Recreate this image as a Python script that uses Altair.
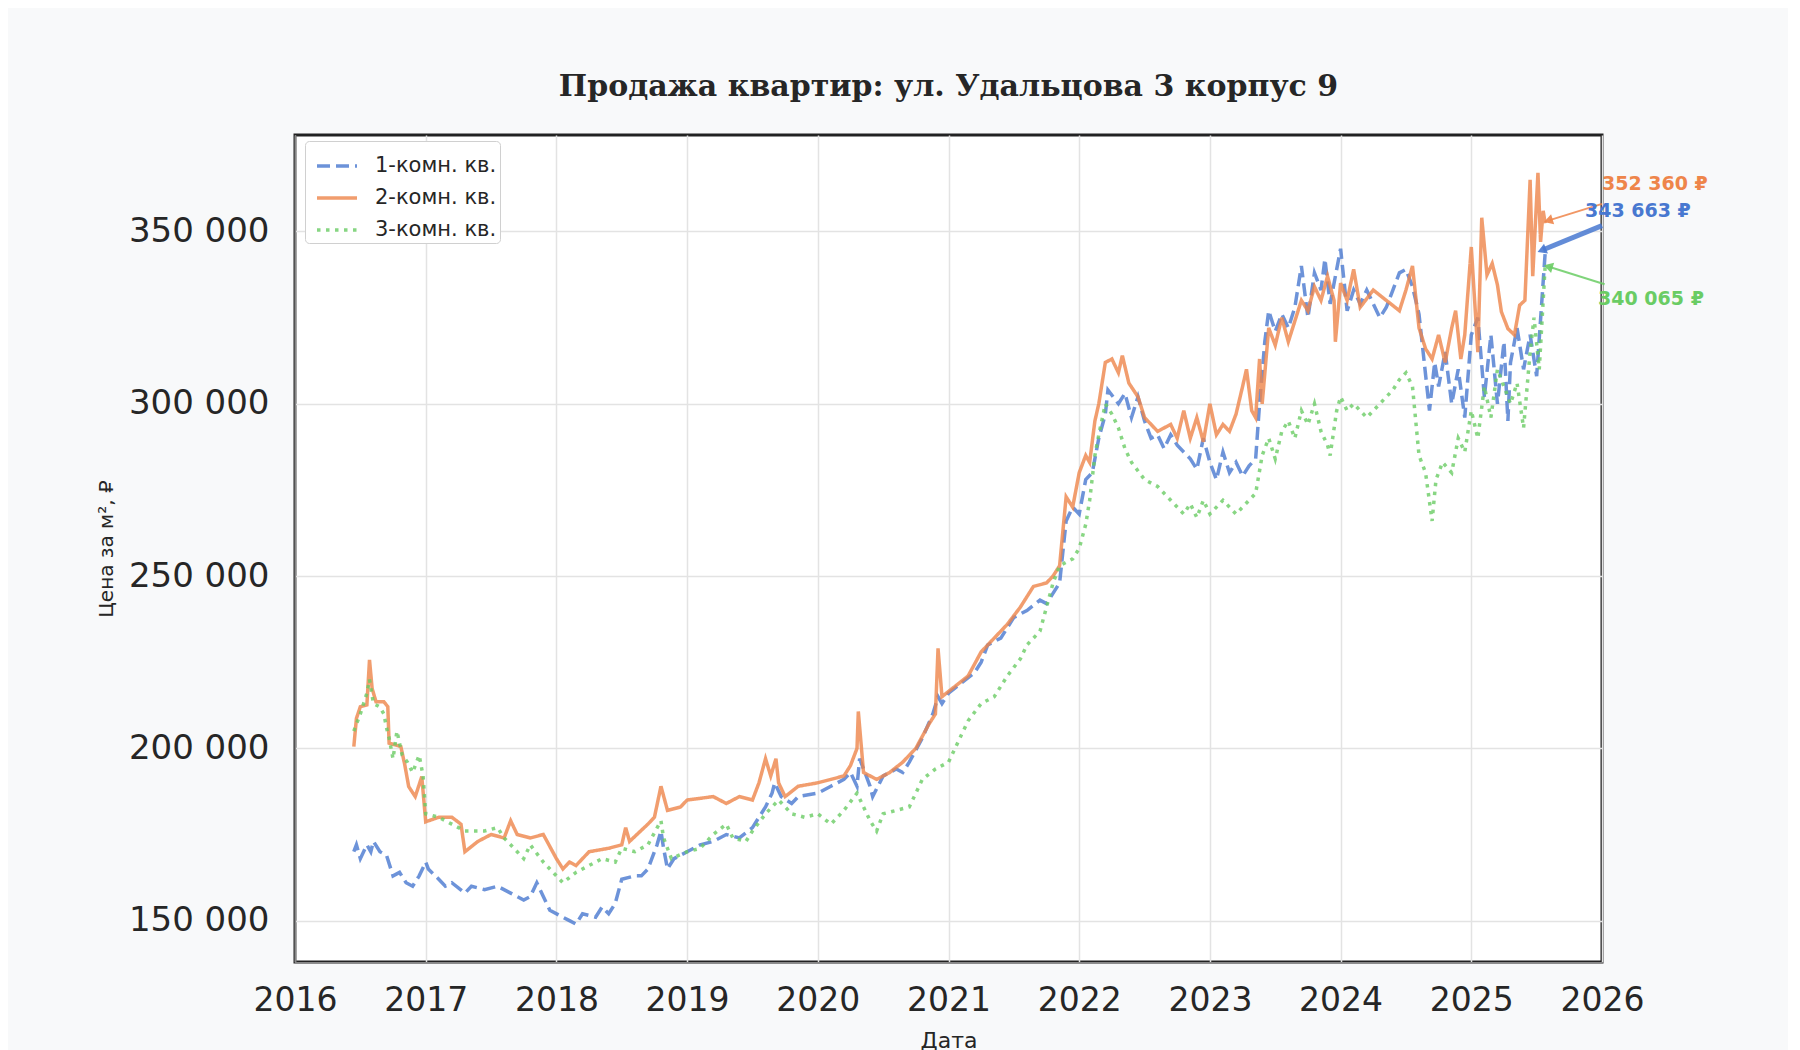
import altair as alt
import pandas as pd

# ---- data (decimal year, price per m²) ----
t1 = [2016.45, 2016.47, 2016.5, 2016.55, 2016.58, 2016.6, 2016.65, 2016.7, 2016.75, 2016.8, 2016.85, 2016.9, 2016.95,
      2017.0, 2017.02, 2017.1, 2017.15, 2017.2, 2017.3, 2017.35, 2017.45, 2017.55, 2017.65, 2017.75, 2017.8, 2017.85,
      2017.95, 2018.05, 2018.1, 2018.15, 2018.2, 2018.3, 2018.35, 2018.4, 2018.45, 2018.5, 2018.6, 2018.65, 2018.7,
      2018.77, 2018.8, 2018.82, 2018.85, 2018.9, 2019.0, 2019.1, 2019.2, 2019.3, 2019.4, 2019.5, 2019.6, 2019.65,
      2019.67, 2019.72, 2019.8, 2019.85, 2020.0, 2020.1, 2020.2, 2020.25, 2020.3, 2020.32, 2020.35, 2020.4, 2020.42,
      2020.5, 2020.6, 2020.65, 2020.7, 2020.8, 2020.88, 2020.92, 2020.95, 2021.0, 2021.1, 2021.2, 2021.25, 2021.3,
      2021.4, 2021.5, 2021.6, 2021.7, 2021.75, 2021.85, 2021.9, 2021.95, 2022.0, 2022.05, 2022.1, 2022.15, 2022.2,
      2022.22, 2022.3, 2022.35, 2022.4, 2022.45, 2022.5, 2022.55, 2022.6, 2022.65, 2022.7, 2022.75, 2022.85, 2022.9,
      2022.95, 2023.0, 2023.05, 2023.1, 2023.15, 2023.2, 2023.25, 2023.3, 2023.35, 2023.38, 2023.42, 2023.45, 2023.5,
      2023.55, 2023.6, 2023.65, 2023.7, 2023.75, 2023.8, 2023.85, 2023.88, 2023.92, 2024.0, 2024.05, 2024.1, 2024.15,
      2024.2, 2024.3, 2024.35, 2024.4, 2024.45, 2024.5, 2024.55, 2024.6, 2024.68, 2024.72, 2024.75, 2024.8, 2024.85,
      2024.9, 2024.95, 2025.0, 2025.05, 2025.1, 2025.15, 2025.2, 2025.25, 2025.28, 2025.3, 2025.35, 2025.4, 2025.45,
      2025.5, 2025.565]
v1 = [170000, 172000, 168000, 172000, 170000, 173000, 170000, 169000, 163000, 164000, 161000, 160000, 163000,
      167000, 165000, 162000, 160000, 161000, 158000, 160000, 159000, 160000, 158000, 156000, 157000, 161000,
      153000, 151000, 150000, 149000, 152000, 151000, 154000, 152000, 155000, 162000, 163000, 163000, 165000,
      172000, 176000, 171000, 165000, 168000, 170000, 172000, 173000, 175000, 174000, 177000, 183000, 187000,
      190000, 186000, 184000, 186000, 187000, 189000, 191000, 193000, 189000, 197000, 194000, 189000, 186000,
      192000, 194000, 193000, 196000, 203000, 210000, 215000, 213000, 216000, 219000, 222000, 225000, 230000,
      232000, 238000, 240000, 243000, 242000, 248000, 266000, 270000, 268000, 278000, 280000, 290000, 297000,
      304000, 300000, 303000, 296000, 302000, 295000, 290000, 291000, 287000, 291000, 288000, 284000, 281000,
      290000, 283000, 278000, 286000, 280000, 283000, 279000, 282000, 284000, 300000, 318000, 327000, 321000,
      326000, 322000, 328000, 340000, 325000, 338000, 333000, 342000, 329000, 345000, 327000, 333000, 329000,
      333000, 325000, 328000, 333000, 338000, 339000, 334000, 326000, 298000, 312000, 305000, 315000, 300000,
      310000, 296000, 320000, 325000, 302000, 320000, 300000, 318000, 295000, 312000, 322000, 310000, 320000,
      308000, 343663]

t2 = [2016.45, 2016.47, 2016.5, 2016.55, 2016.57, 2016.59, 2016.62, 2016.68, 2016.71, 2016.72, 2016.77, 2016.81,
      2016.84, 2016.87, 2016.92, 2016.97, 2017.0, 2017.1, 2017.2, 2017.27, 2017.3, 2017.4, 2017.5, 2017.6, 2017.65,
      2017.7, 2017.8, 2017.9, 2018.0, 2018.05, 2018.1, 2018.15, 2018.25, 2018.4, 2018.5, 2018.53, 2018.56, 2018.7,
      2018.75, 2018.8, 2018.85, 2018.95, 2019.0, 2019.2, 2019.3, 2019.4, 2019.5, 2019.55, 2019.6, 2019.64, 2019.68,
      2019.7, 2019.75, 2019.85, 2020.0, 2020.1, 2020.2, 2020.25, 2020.3, 2020.31, 2020.35, 2020.45, 2020.55,
      2020.65, 2020.75, 2020.85, 2020.9, 2020.92, 2020.95, 2021.05, 2021.15, 2021.25, 2021.35, 2021.45, 2021.55,
      2021.65, 2021.75, 2021.8, 2021.85, 2021.9, 2021.95, 2022.0, 2022.05, 2022.08, 2022.12, 2022.15, 2022.2,
      2022.25, 2022.3, 2022.33, 2022.38, 2022.45, 2022.5, 2022.6, 2022.7, 2022.75, 2022.8, 2022.85, 2022.9,
      2022.95, 2023.0, 2023.05, 2023.1, 2023.15, 2023.2, 2023.25, 2023.28, 2023.32, 2023.35, 2023.38, 2023.4,
      2023.45, 2023.5, 2023.55, 2023.6, 2023.65, 2023.7, 2023.75, 2023.8, 2023.85, 2023.9, 2023.95, 2023.96,
      2024.0, 2024.05, 2024.1, 2024.15, 2024.25, 2024.35, 2024.45, 2024.5, 2024.55, 2024.6, 2024.65, 2024.7,
      2024.75, 2024.8, 2024.85, 2024.88, 2024.92, 2024.95, 2025.0, 2025.05, 2025.08, 2025.12, 2025.16, 2025.2,
      2025.23, 2025.28, 2025.33, 2025.37, 2025.41, 2025.45, 2025.47, 2025.51, 2025.53, 2025.55, 2025.565]
v2 = [200500, 208700, 212100, 212600, 225700, 217400, 213500, 213500, 212100, 201500, 201000, 200500,
      195200, 188900, 186000, 191800, 178700, 180000, 180000, 178000, 170000, 173000, 175000, 174000, 179000,
      175000, 174000, 175000, 168000, 165000, 167000, 166000, 170000, 171000, 172000, 177000, 173000, 178000,
      180000, 189000, 182000, 183000, 185000, 186000, 184000, 186000, 185000, 190000, 197000, 192000, 197000,
      190000, 186000, 189000, 190000, 191000, 192000, 195000, 200000, 210700, 193000, 191000, 193000,
      196000, 200000, 207000, 210000, 229000, 215000, 218000, 221000, 228000, 232000, 236000, 241000,
      247000, 248000, 250000, 253000, 273000, 270000, 280000, 285000, 283000, 295000, 300000, 312000,
      313000, 309000, 314000, 306000, 302000, 296000, 292000, 294000, 290000, 298000, 290000, 296000,
      289000, 300000, 291000, 294000, 292000, 297000, 305000, 310000, 298000, 296000, 313000, 300000,
      322000, 317000, 325000, 318000, 324000, 330000, 327000, 334000, 330000, 337000, 330000, 318000,
      335000, 330000, 339000, 328000, 333000, 330000, 327000, 333000, 340000, 322000, 316000, 313000,
      320000, 312000, 322000, 327000, 313000, 320000, 345500, 315000, 354000, 337400, 340700, 334500,
      326700, 321800, 320000, 328600, 330000, 365000, 337000, 367000, 347000, 356000, 352360]

t3 = [2016.45, 2016.5, 2016.55, 2016.57, 2016.6, 2016.65, 2016.68, 2016.7, 2016.72, 2016.75, 2016.78, 2016.82,
      2016.86, 2016.9, 2016.95, 2016.98, 2017.0, 2017.1, 2017.2, 2017.3, 2017.45, 2017.55, 2017.6, 2017.7, 2017.75,
      2017.8, 2017.9, 2018.0, 2018.05, 2018.15, 2018.25, 2018.35, 2018.45, 2018.5, 2018.6, 2018.7, 2018.8, 2018.82,
      2018.88, 2019.0, 2019.1, 2019.2, 2019.3, 2019.35, 2019.45, 2019.5, 2019.6, 2019.65, 2019.7, 2019.75, 2019.8,
      2019.9, 2020.0, 2020.1, 2020.2, 2020.3, 2020.35, 2020.4, 2020.45, 2020.5, 2020.6, 2020.7, 2020.75, 2020.8,
      2020.9, 2021.0, 2021.05, 2021.1, 2021.15, 2021.25, 2021.35, 2021.45, 2021.55, 2021.6, 2021.7, 2021.75,
      2021.8, 2021.85, 2021.95, 2022.0, 2022.05, 2022.08, 2022.12, 2022.15, 2022.2, 2022.25, 2022.3, 2022.35,
      2022.4, 2022.5, 2022.6, 2022.7, 2022.8, 2022.85, 2022.9, 2022.95, 2023.0, 2023.1, 2023.2, 2023.3, 2023.35,
      2023.4, 2023.45, 2023.5, 2023.55, 2023.6, 2023.65, 2023.7, 2023.75, 2023.8, 2023.85, 2023.9, 2023.92,
      2023.97, 2024.0, 2024.05, 2024.1, 2024.2, 2024.3, 2024.4, 2024.45, 2024.5, 2024.55, 2024.6, 2024.65, 2024.7,
      2024.73, 2024.78, 2024.85, 2024.9, 2024.95, 2025.0, 2025.05, 2025.1, 2025.15, 2025.2, 2025.3, 2025.35,
      2025.4, 2025.45, 2025.48, 2025.52, 2025.565]
v3 = [205000, 210000, 216000, 220000, 213000, 212000, 210000, 206000, 203000, 197000, 205000, 198000,
      196000, 193000, 198000, 192000, 181000, 180000, 178000, 176000, 176000, 177000, 174000, 170000, 168000,
      172000, 167000, 163000, 161000, 164000, 166000, 168000, 167000, 171000, 170000, 172000, 179000, 174000,
      168000, 170000, 171000, 175000, 178000, 174000, 173000, 176000, 181000, 183000, 185000, 183000, 181000,
      180000, 181000, 178000, 182000, 187000, 183000, 179000, 176000, 181000, 182000, 183000, 187000, 191000,
      194000, 196000, 200000, 204000, 208000, 213000, 215000, 221000, 226000, 230000, 234000, 241000,
      248000, 253000, 255000, 258000, 265000, 272000, 285000, 291000, 300000, 297000, 293000, 287000,
      283000, 278000, 276000, 272000, 268000, 271000, 267000, 272000, 268000, 272000, 268000, 272000, 274000,
      285000, 290000, 284000, 292000, 295000, 290000, 298000, 294000, 300000, 292000, 288000, 285000,
      298000, 302000, 298000, 300000, 296000, 300000, 304000, 307000, 309000, 305000, 285000, 280000, 266000,
      278000, 283000, 280000, 290000, 286000, 298000, 290000, 305000, 296000, 310000, 300000, 306000,
      293000, 315000, 325000, 310000, 340065]

series_names = ["1-комн. кв.", "2-комн. кв.", "3-комн. кв."]
colors = ["#4878d0", "#ee854a", "#6acc64"]
dashes = [[13, 6], [1, 0], [3.5, 5.5]]

# annotation labels
ann_text = ["352 360 ₽", "343 663 ₽", "340 065 ₽"]
ann_tx = [2026.0, 2025.87, 2025.97]
ann_ty = [363700, 356000, 330300]
ann_tail_x = [2026.0, 2026.0, 2026.02]
ann_tail_y = [358000, 351700, 334700]
ann_tip_x = [2025.6, 2025.55, 2025.6]
ann_tip_y = [353300, 344700, 339700]
ann_color = ["#ee854a", "#4878d0", "#6acc64"]
ann_width = [2, 5, 2]
ann_angle = [253, 248, 287]

rows = []
for name, ts, vs in zip(series_names, [t1, t2, t3], [v1, v2, v3]):
    for t, v in zip(ts, vs):
        rows.append({"t": t, "v": v, "s": name})
df = pd.DataFrame(rows)

ann = pd.DataFrame({
    "text": ann_text, "tx": ann_tx, "ty": ann_ty,
    "x1": ann_tail_x, "y1": ann_tail_y, "x2": ann_tip_x, "y2": ann_tip_y,
    "c": ann_color, "w": ann_width, "a": ann_angle,
})

xscale = alt.Scale(domain=[2016, 2026], nice=False, zero=False)
yscale = alt.Scale(domain=[138000, 378000], nice=False, zero=False)

legend_cfg = dict(title=None, orient="none", legendX=10, legendY=6,
                  fillColor="white", strokeColor="#d0d0d0", cornerRadius=4,
                  padding=3, labelFontSize=21, labelFont="DejaVu Sans", labelOffset=16,
                  labelColor="#262626", symbolType="stroke", symbolSize=1600, symbolOffset=7,
                  symbolStrokeWidth=3.5, symbolOpacity=0.8, rowPadding=-2)

lines = alt.Chart(df).mark_line(strokeWidth=3.5, opacity=0.8, clip=True, strokeCap="butt").encode(
    x=alt.X("t:Q", scale=xscale,
            axis=alt.Axis(title="Дата", values=list(range(2016, 2027)), format="d",
                          labelFontSize=33, titleFontSize=22, labelPadding=22, titlePadding=13,
                          ticks=False, labelColor="#262626", titleColor="#262626",
                          titleFontWeight="normal", gridColor="#e3e3e3", gridWidth=1.5,
                          labelFont="DejaVu Sans", titleFont="DejaVu Sans", labelFlush=False)),
    y=alt.Y("v:Q", scale=yscale,
            axis=alt.Axis(title="Цена за м², ₽", values=[150000, 200000, 250000, 300000, 350000],
                          labelExpr="replace(format(datum.value, ',d'), ',', ' ')",
                          labelFontSize=34, titleFontSize=20, labelPadding=26, titlePadding=12,
                          ticks=False, labelColor="#262626", titleColor="#262626",
                          titleFontWeight="normal", gridColor="#e3e3e3", gridWidth=1.5,
                          labelFont="DejaVu Sans", titleFont="DejaVu Sans")),
    color=alt.Color("s:N", scale=alt.Scale(domain=series_names, range=colors),
                    legend=alt.Legend(**legend_cfg)),
    strokeDash=alt.StrokeDash("s:N", scale=alt.Scale(domain=series_names, range=dashes),
                              legend=alt.Legend(**legend_cfg)),
)

arrows = alt.Chart(ann).mark_rule(opacity=0.85).encode(
    x=alt.X("x1:Q", scale=xscale), y=alt.Y("y1:Q", scale=yscale),
    x2="x2:Q", y2="y2:Q",
    stroke=alt.Stroke("c:N", scale=None, legend=None),
    strokeWidth=alt.StrokeWidth("w:Q", scale=None, legend=None),
)

heads = alt.Chart(ann).mark_point(shape="triangle", filled=True, size=110, opacity=0.9).encode(
    x=alt.X("x2:Q", scale=xscale), y=alt.Y("y2:Q", scale=yscale),
    fill=alt.Fill("c:N", scale=None, legend=None),
    angle=alt.Angle("a:Q", scale=None),
)

labels = alt.Chart(ann).mark_text(align="left", baseline="middle", fontSize=19, fontWeight="bold",
                                  font="DejaVu Sans").encode(
    x=alt.X("tx:Q", scale=xscale), y=alt.Y("ty:Q", scale=yscale),
    text="text:N",
    fill=alt.Fill("c:N", scale=None, legend=None),
)

chart = alt.layer(lines, arrows, heads, labels).properties(
    width=1307, height=827,
    background="#f8f9fa",
    padding={"left": 88, "top": 64, "right": 80, "bottom": 5},
    title=alt.TitleParams("Продажа квартир: ул. Удальцова 3 корпус 9", font="DejaVu Serif",
                          fontSize=30, fontWeight="bold", color="#262626", offset=33, anchor="middle"),
).configure_view(fill="white", stroke="#222222", strokeWidth=3)

chart.save("out.html", embed_options={"renderer": "svg", "actions": False})
